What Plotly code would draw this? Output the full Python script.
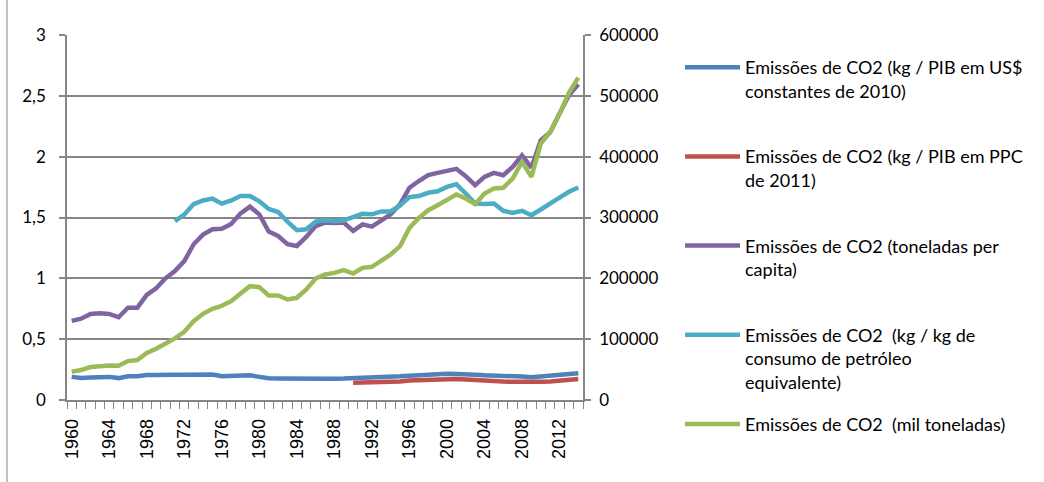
import plotly.graph_objects as go

years = list(range(1960, 2015))
tick_years = years[::4]
tick_text = [str(y) for y in tick_years]

co2_kg_pib_usd2010 = [
    0.19, 0.18, 0.185, 0.19, 0.19, 0.18, 0.195, 0.195, 0.205, 0.205, 0.21,
    0.208, 0.208, 0.21, 0.21, 0.21, 0.195, 0.195, 0.203, 0.203, 0.19,
    0.178, 0.177, 0.176, 0.172, 0.17, 0.172, 0.175, 0.175, 0.176, 0.178,
    0.18, 0.182, 0.183, 0.188, 0.195, 0.2,
    0.205, 0.207, 0.212, 0.215, 0.213, 0.215, 0.208, 0.203, 0.202, 0.2,
    0.196, 0.193, 0.188, 0.194, 0.199, 0.206, 0.213, 0.22,
]

co2_kg_pib_ppc2011 = [None] * 30 + [
    0.142, 0.143, 0.145, 0.15, 0.15, 0.153, 0.16, 0.163, 0.165, 0.167,
    0.17, 0.172, 0.168, 0.162, 0.158, 0.157, 0.152, 0.15, 0.148, 0.143,
    0.15, 0.152, 0.158, 0.165, 0.172,
]

co2_ton_per_capita = [
    0.65, 0.668, 0.707, 0.712, 0.707, 0.68, 0.759, 0.759, 0.863, 0.918, 1.0,
    1.06, 1.142, 1.28, 1.359, 1.403, 1.408, 1.447, 1.534, 1.589, 1.526,
    1.384, 1.348, 1.28, 1.266, 1.34, 1.43, 1.458, 1.455, 1.458, 1.39,
    1.444, 1.425, 1.471, 1.526, 1.608, 1.745, 1.8,
    1.848, 1.867, 1.88, 1.90, 1.84, 1.766, 1.834, 1.867, 1.848, 1.916,
    2.01, 1.91, 2.135, 2.20, 2.354, 2.505, 2.595,
]

co2_kg_per_kg_oil = [None] * 11 + [
    1.47, 1.524, 1.61, 1.64, 1.655, 1.614, 1.64, 1.677, 1.677, 1.633,
    1.57, 1.545, 1.466, 1.395, 1.403, 1.466, 1.477, 1.47, 1.477, 1.5,
    1.53, 1.526, 1.55, 1.55, 1.6, 1.668, 1.676, 1.703,
    1.716, 1.752, 1.774, 1.697, 1.615, 1.61, 1.615, 1.555, 1.538, 1.555,
    1.519, 1.566, 1.62, 1.664, 1.711, 1.747,
]

co2_kt = [
    46500, 49200, 54200, 55800, 56900, 56400, 64000, 65700, 77200, 84300,
    92500, 101200, 112200, 129700, 141700, 149900, 154900, 162500, 175100,
    187100, 185500,
    171800, 171800, 165200, 168000, 181700, 199700, 206300, 209000, 213400,
    207900, 217200, 218900, 228200, 239100, 252800, 282900, 299300,
    312000, 320300, 329600, 337800, 331200, 321900, 339400, 347700, 348800,
    364100, 391500, 366800, 421600, 440700, 470800, 504800, 530000,
]

names = [
    "Emissões de CO2 (kg / PIB em US$<br>constantes de 2010)<br>\u00a0",
    "Emissões de CO2 (kg / PIB em PPC<br>de 2011)<br>\u00a0",
    "Emissões de CO2 (toneladas per<br>capita)<br>\u00a0",
    "Emissões de CO2  (kg / kg de<br>consumo de petróleo<br>equivalente)",
    "Emissões de CO2  (mil toneladas)",
]
series = [co2_kg_pib_usd2010, co2_kg_pib_ppc2011, co2_ton_per_capita,
          co2_kg_per_kg_oil, co2_kt]
colors = ["#4F81BD", "#C0504D", "#8064A2", "#4BACC6", "#9BBB59"]
axes = ["y", "y", "y", "y", "y2"]

fig = go.Figure()
for i, (nm, ys, col, ax) in enumerate(zip(names, series, colors, axes)):
    fig.add_trace(go.Scatter(
        x=years, y=ys, name=nm, mode="lines", yaxis=ax,
        line=dict(color=col, width=4.5), legendgroup=f"g{i}",
        connectgaps=False, hoverinfo="skip",
    ))

grid = "#868686"
fig.update_layout(
    width=1044, height=482,
    margin=dict(l=67, r=461, t=35, b=82),
    paper_bgcolor="white", plot_bgcolor="white",
    separators=",.",
    font=dict(family="Lato", size=17, color="black"),
    xaxis=dict(
        range=[1959.5, 2014.5], tickmode="array", tickvals=tick_years,
        ticktext=tick_text, tickangle=-90, ticks="",
        tickfont=dict(family="Liberation Sans", size=18),
        showgrid=False, zeroline=False, showline=True,
        linecolor=grid, linewidth=1.5, ticklabelstandoff=10,
        minor=dict(ticks="outside", tick0=1959.5, dtick=1, ticklen=7,
                   tickcolor=grid, tickwidth=1, showgrid=False),
    ),
    yaxis=dict(
        range=[0, 3], dtick=0.5, tick0=0, showgrid=True, gridcolor=grid,
        gridwidth=1.5, zeroline=False, showline=True, linecolor=grid,
        linewidth=1.5, ticks="outside", ticklen=6, tickcolor=grid,
        tickwidth=1.5, tickfont=dict(family="Lato", size=17),
        ticklabelstandoff=10,
    ),
    yaxis2=dict(
        range=[0, 600000], dtick=100000, tick0=0, overlaying="y",
        side="right", showgrid=False, zeroline=False, showline=True,
        linecolor=grid, linewidth=1.5, ticks="outside", ticklen=6,
        tickcolor=grid, tickwidth=1.5, tickformat="d",
        tickfont=dict(family="Lato", size=17), ticklabelstandoff=5,
    ),
    legend=dict(
        xref="container", yref="container", x=680 / 1044, y=1 - 49 / 482,
        xanchor="left", yanchor="top", valign="top",
        font=dict(family="Lato", size=18), tracegroupgap=16,
        itemwidth=55, bgcolor="rgba(0,0,0,0)", traceorder="grouped",
        maxheight=470,
    ),
    shapes=[dict(type="line", xref="paper", yref="paper",
                 x0=(7 - 67) / 516, x1=(7 - 67) / 516, y0=-0.3, y1=1.2,
                 line=dict(color="#ADADAD", width=1.5))],
    showlegend=True,
)

fig.write_html("out.html", config={"displayModeBar": False},
               post_script="document.body.style.margin='0px';")
